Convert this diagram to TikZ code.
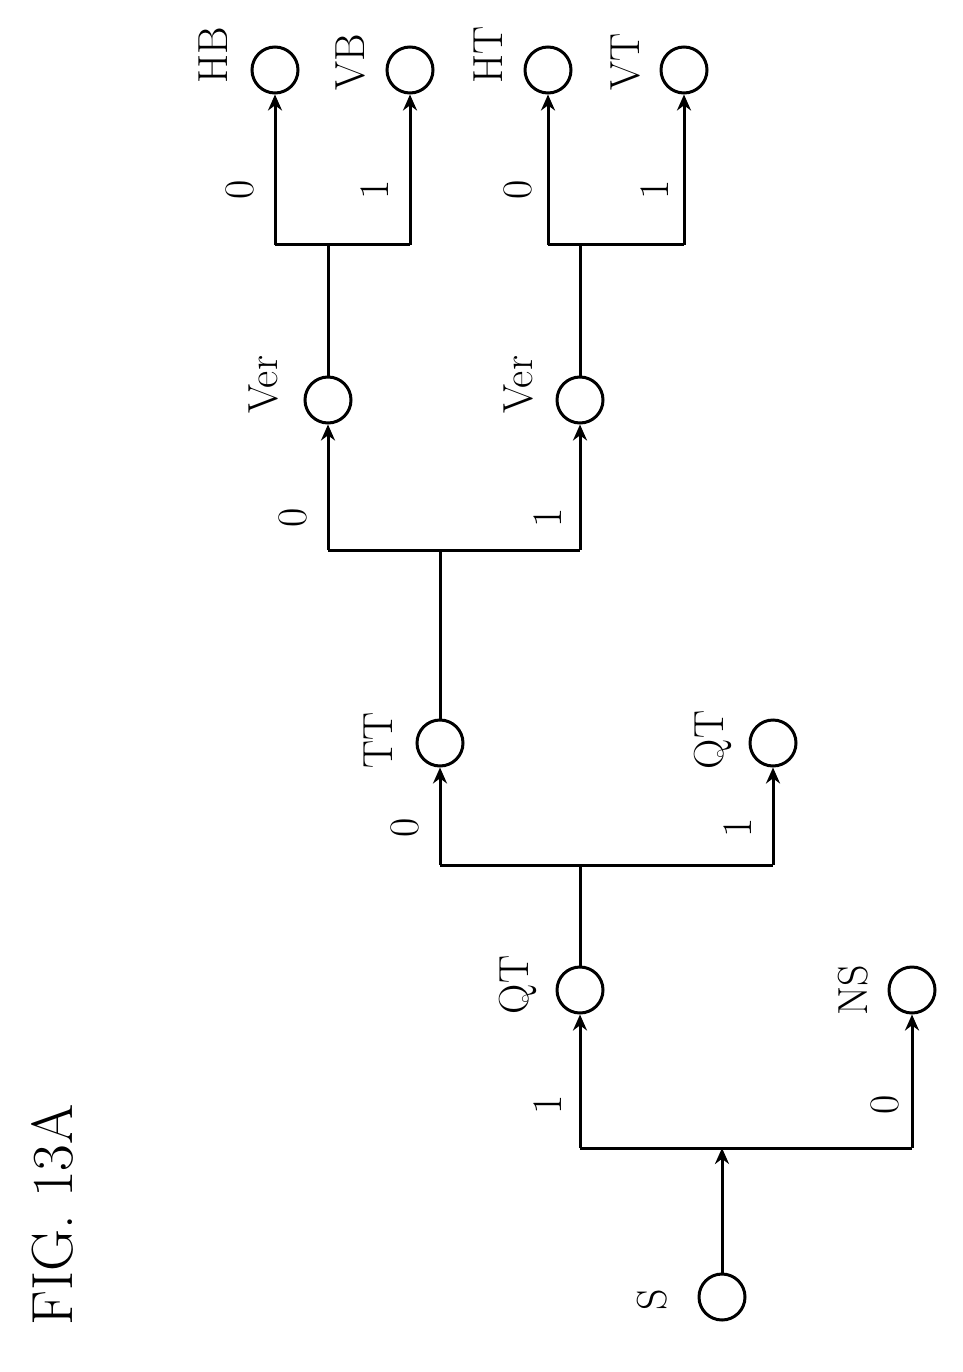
\documentclass[tikz,border=0pt]{standalone}
\usetikzlibrary{arrows.meta}
\begin{document}
\begin{tikzpicture}[x=1pt,y=-1pt,
  st/.style={circle,draw,line width=3pt,minimum size=46pt,inner sep=0pt},
  ln/.style={line width=3pt},
  ar/.style={line width=3pt,-{Stealth[length=16pt,width=14pt]}},
  lb/.style={rotate=90,font=\fontsize{42}{48}\selectfont},
]
\useasboundingbox (0,0) rectangle (962,1372);
\node[rotate=90,font=\fontsize{58}{64}\selectfont] (fig) at (52,1215) {FIG. 13A};
% nodes
\node[st] (S) at (722,1297) {};
\node[st] (QT1) at (580,990) {};
\node[st] (NS) at (912,990) {};
\node[st] (TT) at (440,743) {};
\node[st] (QT2) at (773,743) {};
\node[st] (V1) at (328,400) {};
\node[st] (V2) at (580,400) {};
\node[st] (HB) at (275,70) {};
\node[st] (VB) at (410,70) {};
\node[st] (HT) at (548,70) {};
\node[st] (VT) at (684,70) {};
% junctions
\coordinate (j1) at (722,1148); \coordinate (j1l) at (580,1148); \coordinate (j1r) at (912,1148);
\coordinate (j2) at (580,865); \coordinate (j2l) at (440,865); \coordinate (j2r) at (773,865);
\coordinate (j3) at (440,550); \coordinate (j3l) at (328,550); \coordinate (j3r) at (580,550);
\coordinate (j4) at (328,245); \coordinate (j4l) at (275,245); \coordinate (j4r) at (410,245);
\coordinate (j5) at (580,245); \coordinate (j5l) at (548,245); \coordinate (j5r) at (684,245);
% connectors
\draw[ar] (S) -- (j1);
\draw[ln] (j1l) -- (j1r);
\draw[ar] (j1l) -- (QT1); \draw[ar] (j1r) -- (NS);
\draw[ln] (QT1) -- (j2); \draw[ln] (j2l) -- (j2r);
\draw[ar] (j2l) -- (TT); \draw[ar] (j2r) -- (QT2);
\draw[ln] (TT) -- (j3); \draw[ln] (j3l) -- (j3r);
\draw[ar] (j3l) -- (V1); \draw[ar] (j3r) -- (V2);
\draw[ln] (V1) -- (j4); \draw[ln] (j4l) -- (j4r);
\draw[ar] (j4l) -- (HB); \draw[ar] (j4r) -- (VB);
\draw[ln] (V2) -- (j5); \draw[ln] (j5l) -- (j5r);
\draw[ar] (j5l) -- (HT); \draw[ar] (j5r) -- (VT);
% labels
\node[lb] (lS) at (652,1300) {S};
\node[lb] (lQT1) at (518,985) {QT};
\node[lb] (lNS) at (853,990) {NS};
\node[lb] (lTT) at (378,740) {TT};
\node[lb] (lQT2) at (713,740) {QT};
\node[lb] (lV1) at (263,385) {Ver};
\node[lb] (lV2) at (518,385) {Ver};
\node[lb] (lHB) at (213,55) {HB};
\node[lb] (lVB) at (350,62) {VB};
\node[lb] (lHT) at (488,55) {HT};
\node[lb] (lVT) at (625,62) {VT};
\node[lb] (e1) at (548,1105) {1};
\node[lb] (e2) at (885,1105) {0};
\node[lb] (e3) at (405,828) {0};
\node[lb] (e4) at (738,828) {1};
\node[lb] (e5) at (293,518) {0};
\node[lb] (e6) at (548,518) {1};
\node[lb] (e7) at (240,190) {0};
\node[lb] (e8) at (375,190) {1};
\node[lb] (e9) at (518,190) {0};
\node[lb] (e10) at (655,190) {1};
\end{tikzpicture}
\end{document}
